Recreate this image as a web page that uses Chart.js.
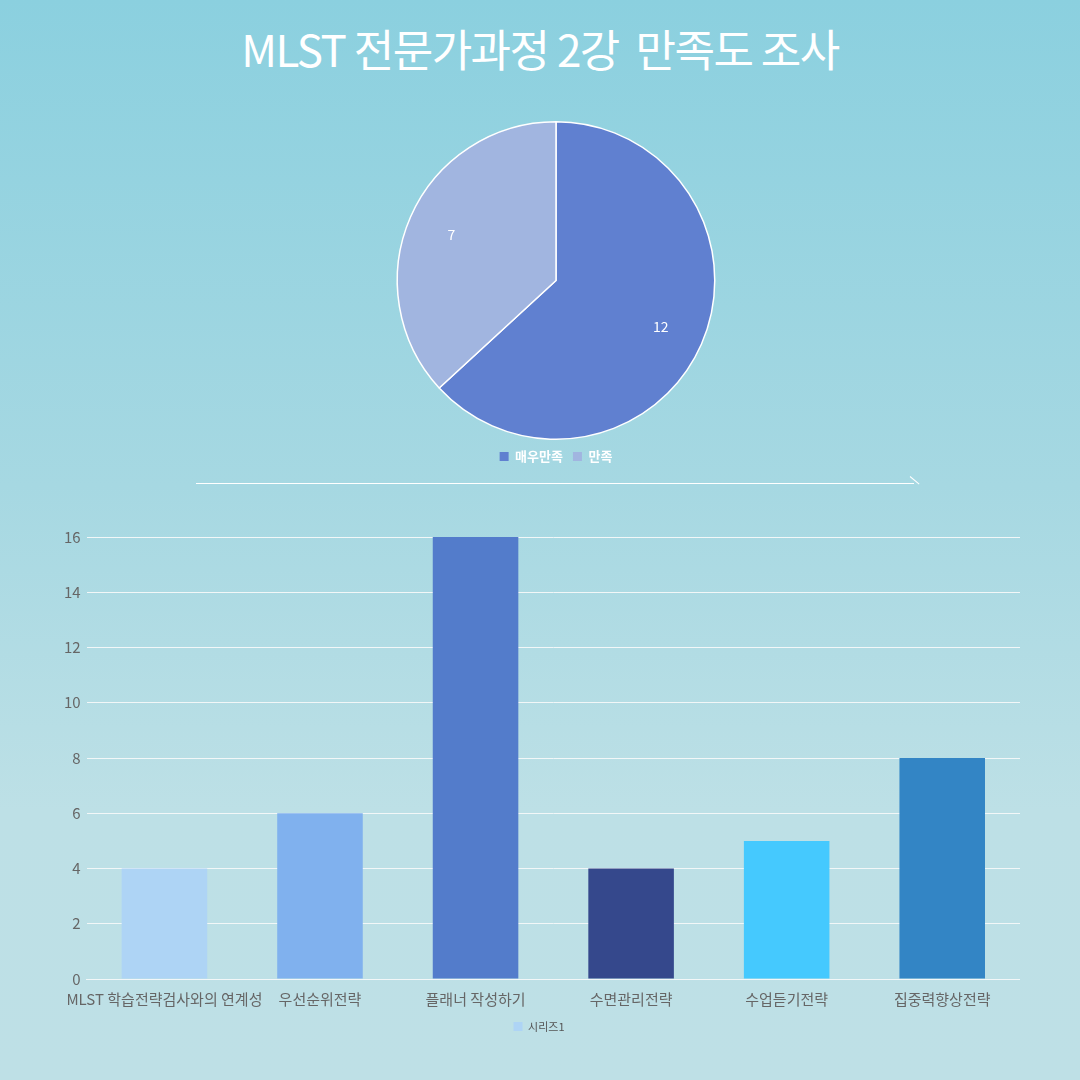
<!DOCTYPE html>
<html>
<head>
<meta charset="utf-8">
<script src="https://cdn.jsdelivr.net/npm/chart.js@4"></script>
<style>
  body { margin: 0; }
  #page {
    position: relative; width: 1080px; height: 1080px; overflow: hidden;
    background: linear-gradient(to bottom, #8bd0df 0%, #a6d8e2 45%, #bde0e6 75%, #bee0e6 100%);
    font-family: "Noto Sans CJK KR", "Noto Sans", sans-serif;
  }
  h1 {
    position: absolute; top: 16px; left: 0; width: 1080px; margin: 0;
    text-align: center; color: #fff; font-size: 44px; font-weight: 400; letter-spacing: -1.5px;
  }
  .box { position: absolute; }
  #divider { position: absolute; left: 196px; top: 483px; width: 718px; height: 1px; background: #fff; }
  #hook { position: absolute; left: 910px; top: 476px; width: 12px; height: 1px; background: #fff; transform: rotate(40deg); transform-origin: left; }
</style>
</head>
<body>
<div id="page">
  <h1>MLST 전문가과정 2강&nbsp; 만족도 조사</h1>
  <div class="box" style="left:386px; top:121px; width:340px; height:352px;"><canvas id="pieChart"></canvas></div>
  <div id="divider"></div><div id="hook"></div>
  <div class="box" style="left:58px; top:522px; width:962px; height:520px;"><canvas id="barChart"></canvas></div>
</div>
<script>
// pie data
const pieLabels = ["매우만족", "만족"];
const pieValues = [12, 7];
const pieColors = ["#6080d0", "#a1b5e0"];

// bar data
const barLabels = ["MLST 학습전략검사와의 연계성", "우선순위전략", "플래너 작성하기", "수면관리전략", "수업듣기전략", "집중력향상전략"];
const barValues = [4, 6, 16, 4, 5, 8];
const barColors = ["#aed4f5", "#80b1ee", "#537ccb", "#35488c", "#45c9fe", "#3385c5"];

Chart.defaults.font.family = '"Noto Sans CJK KR", "Noto Sans", sans-serif';

// value labels on pie slices, placed out toward the rim
const sliceLabels = {
  id: "sliceLabels",
  afterDatasetsDraw(chart) {
    const ctx = chart.ctx;
    chart.getDatasetMeta(0).data.forEach((arc, i) => {
      const mid = (arc.startAngle + arc.endAngle) / 2;
      const r = arc.outerRadius * 0.72;
      ctx.save();
      ctx.fillStyle = "#fff";
      ctx.font = '14px "Noto Sans CJK KR"';
      ctx.textAlign = "center";
      ctx.textBaseline = "middle";
      ctx.fillText(pieValues[i], arc.x + Math.cos(mid) * r, arc.y + Math.sin(mid) * r);
      ctx.restore();
    });
  }
};

new Chart(document.getElementById("pieChart"), {
  type: "pie",
  data: {
    labels: pieLabels,
    datasets: [{ data: pieValues, backgroundColor: pieColors, borderColor: "#fff", borderWidth: 1.5 }]
  },
  options: {
    responsive: true,
    maintainAspectRatio: false,
    animation: false,
    layout: { padding: 0 },
    plugins: {
      tooltip: { enabled: false },
      legend: {
        position: "bottom",
        labels: {
          color: "#fff", boxWidth: 9, boxHeight: 9, padding: 10, font: { size: 13, weight: "bold" },
          generateLabels: () => pieLabels.map((t, i) => ({ text: t, fillStyle: pieColors[i], strokeStyle: pieColors[i], lineWidth: 0, fontColor: "#fff", index: i }))
        }
      }
    }
  },
  plugins: [sliceLabels]
});

new Chart(document.getElementById("barChart"), {
  type: "bar",
  data: {
    labels: barLabels,
    datasets: [{ label: "시리즈1", data: barValues, backgroundColor: barColors, barPercentage: 0.55, categoryPercentage: 1 }]
  },
  options: {
    responsive: true,
    maintainAspectRatio: false,
    animation: false,
    plugins: {
      tooltip: { enabled: false },
      legend: {
        position: "bottom",
        labels: {
          color: "#555", boxWidth: 9, boxHeight: 9, font: { size: 11 },
          generateLabels: () => [{ text: "시리즈1", fillStyle: barColors[0], strokeStyle: barColors[0], lineWidth: 0, fontColor: "#555" }]
        }
      }
    },
    scales: {
      y: {
        min: 0, max: 16,
        ticks: { stepSize: 2, color: "#666", font: { size: 15 }, padding: 6 },
        grid: { color: "#f2f7f8", drawTicks: false },
        border: { display: false }
      },
      x: {
        ticks: { color: "#666", font: { size: 15 }, maxRotation: 0, autoSkip: false },
        grid: { display: false },
        border: { color: "#f2f7f8" }
      }
    }
  }
});
</script>
</body>
</html>
